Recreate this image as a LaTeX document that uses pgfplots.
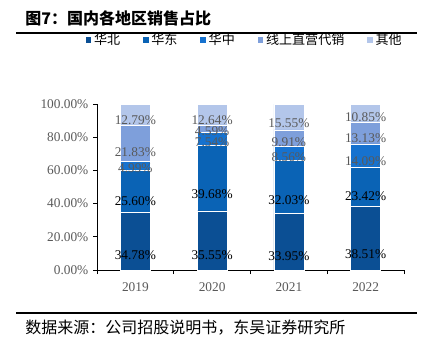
\documentclass[border=0pt]{standalone}
\usepackage{pgfplots}
\pgfplotsset{compat=1.18}
\usepackage{pgfplotstable}
\usepackage{fontspec}
\setmainfont{Liberation Serif}
\newfontfamily\cjk{Noto Sans CJK SC}
\definecolor{cA}{HTML}{0B4F94}
\definecolor{cB}{HTML}{0A63B5}
\definecolor{cC}{HTML}{1672CF}
\definecolor{cD}{HTML}{7E9FDB}
\definecolor{cE}{HTML}{B3C6EA}
\definecolor{lblgray}{HTML}{595959}
\pgfplotstableread{
x a b c d e
0 34.78 25.60 4.99 21.83 12.79
1 35.55 39.68 7.54 4.59 12.64
2 33.95 32.03 8.56 9.91 15.55
3 38.51 23.42 14.09 13.13 10.85
}\datatable
\begin{document}
\begin{tikzpicture}
\begin{scope}[x=0.75pt,y=-0.75pt]
\path (0,0) rectangle (424,342);
\node[anchor=west, inner sep=0pt, font=\cjk\bfseries\fontsize{12}{14}\selectfont] at (25,18) {图7：国内各地区销售占比};
\draw[line width=1.1pt] (16,33) -- (417,33);
\draw[line width=1.1pt] (16,313) -- (417,313);
\node[anchor=west, inner sep=0pt, font=\cjk\fontsize{12}{14}\selectfont] at (25,328) {数据来源：公司招股说明书，东吴证券研究所};
\end{scope}
\begin{axis}[
  at={(72.75pt,-202.5pt)}, anchor=south west,
  scale only axis, width=230.25pt, height=124.5pt,
  ybar stacked, bar width=22.5pt,
  xmin=-0.5, xmax=3.5, ymin=0, ymax=100,
  axis x line*=bottom, axis y line*=left,
  axis line style={black, line width=0.6pt},
  xtick={-0.5,0.5,1.5,2.5,3.5},
  x tick label as interval,
  xticklabels={2019,2020,2021,2022},
  ytick={0,20,40,60,80,100},
  yticklabel={\pgfmathprintnumber[fixed,fixed zerofill,precision=2]{\tick}\%},
  tick align=outside, major tick length=3pt,
  tick style={black, line width=0.6pt},
  ticklabel style={font=\fontsize{10}{12}\selectfont, text=lblgray},
  /pgf/number format/assume math mode=true,
  xticklabel style={yshift=-3pt},
  every axis plot/.append style={draw=white, line width=0.3pt},
  nodes near coords={\pgfplotspointmeta\%},
  point meta=explicit symbolic,
  every node near coord/.append style={anchor=center, font=\fontsize{10}{12}\selectfont, yshift=-\segh*0.31125pt},
  legend columns=5,
  legend style={at={(0.482,1.3855)}, anchor=center, draw=none, fill=none,
    font=\cjk\fontsize{9.8}{12}\selectfont,
    /tikz/every even column/.append style={column sep=15pt}},
  legend image code/.code={\fill[#1, draw=none] (0pt,-2.2pt) rectangle (4.4pt,2.2pt);},
]
\addplot[fill=cA, visualization depends on={\thisrow{a} \as \segh}, every node near coord/.append style={text=black}] table[x=x,y=a,meta=a] {\datatable};
\addplot[fill=cB, visualization depends on={\thisrow{b} \as \segh}, every node near coord/.append style={text=black}] table[x=x,y=b,meta=b] {\datatable};
\addplot[fill=cC, visualization depends on={\thisrow{c} \as \segh}, every node near coord/.append style={text=lblgray}] table[x=x,y=c,meta=c] {\datatable};
\addplot[fill=cD, visualization depends on={\thisrow{d} \as \segh}, every node near coord/.append style={text=lblgray}] table[x=x,y=d,meta=d] {\datatable};
\addplot[fill=cE, visualization depends on={\thisrow{e} \as \segh}, every node near coord/.append style={text=lblgray}] table[x=x,y=e,meta=e] {\datatable};
\legend{华北,华东,华中,线上直营代销,其他}
\end{axis}
\end{tikzpicture}
\end{document}
